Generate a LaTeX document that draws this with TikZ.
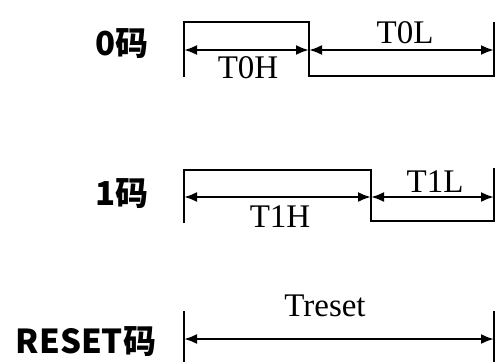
\documentclass[tikz,border=0pt]{standalone}
\usepackage{fontspec}
\setmainfont{Liberation Serif}
\newfontfamily\cjk{Noto Sans CJK SC}
\usetikzlibrary{arrows, arrows.meta}

\begin{document}
\begin{tikzpicture}[x=1pt, y=-1pt,
    wave/.style={line width=2.6pt},
    span/.style={line width=2.2pt, {Latex[length=13pt,width=10pt]}-{Latex[length=13pt,width=10pt]}},
    code/.style={font=\cjk\bfseries\fontsize{33}{33}\selectfont, anchor=base, inner sep=0pt},
    dur/.style={font=\fontsize{33}{33}\selectfont, inner sep=0pt}]
    \useasboundingbox (0,0) rectangle (500,362);

    % 0 code
    \coordinate (0b) at (184,77);
    \coordinate (0t) at (184,22);
    \coordinate (0ht) at (309,22);
    \coordinate (0hb) at (309,76);
    \coordinate (0eb) at (494,76);
    \coordinate (0et) at (494,22);
    \coordinate (0l) at (184,50);
    \coordinate (0m) at (309,50);
    \coordinate (0r) at (494,50);
    \node[code] (c0) at (122,55) {0码};
    \node[dur] (T0H) at (248,68) {T0H};
    \node[dur] (T0L) at (405,33) {T0L};

    \draw[wave] (0b) -- (0t) -- (0ht) -- (0hb) -- (0eb) -- (0et);
    \draw[span] (0l) -- (0m);
    \draw[span] (0m) -- (0r);

    % 1 code
    \coordinate (1b) at (184,223);
    \coordinate (1t) at (184,170);
    \coordinate (1ht) at (371,170);
    \coordinate (1hb) at (371,221);
    \coordinate (1eb) at (494,221);
    \coordinate (1et) at (494,168);
    \coordinate (1l) at (184,197);
    \coordinate (1m) at (371,197);
    \coordinate (1r) at (494,197);
    \node[code] (c1) at (122,205) {1码};
    \node[dur] (T1H) at (280,217) {T1H};
    \node[dur] (T1L) at (435,182) {T1L};

    \draw[wave] (1b) -- (1t) -- (1ht) -- (1hb) -- (1eb) -- (1et);
    \draw[span] (1l) -- (1m);
    \draw[span] (1m) -- (1r);

    % reset code
    \coordinate (rlt) at (184,311);
    \coordinate (rlb) at (184,362);
    \coordinate (rrt) at (494,311);
    \coordinate (rrb) at (494,362);
    \coordinate (rl) at (184,339);
    \coordinate (rr) at (494,339);
    \node[code] (creset) at (86,353) {RESET码};
    \node[dur] (Treset) at (325,306) {Treset};

    \draw[wave] (rlt) -- (rlb);
    \draw[wave] (rrt) -- (rrb);
    \draw[span] (rl) -- (rr);
\end{tikzpicture}
\end{document}
